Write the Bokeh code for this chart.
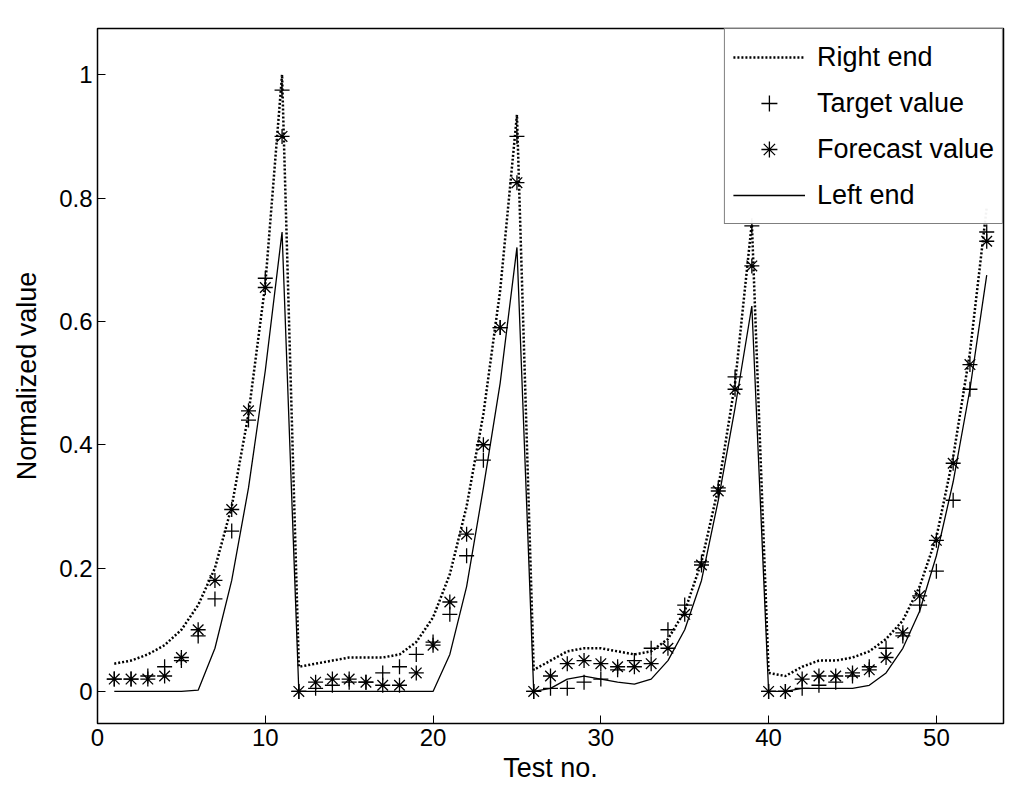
from bokeh.plotting import figure
from bokeh.models import Range1d, Legend, LegendItem, FixedTicker
from bokeh.embed import file_html
from bokeh.resources import INLINE

test_no = list(range(1, 54))
target = [.02,.02,.025,.04,.05,.09,.15,.26,.44,.67,.975,
          0,.005,.01,.015,.015,.03,.04,.06,.08,.125,.22,.375,.59,.90,
          0,.005,.005,.015,.02,.035,.05,.07,.10,.14,.21,.33,.51,.755,
          0,0,.005,.01,.015,.025,.04,.07,.09,.14,.195,.31,.49,.745]
forecast = [.02,.02,.02,.025,.055,.10,.18,.295,.455,.655,.90,
            0,.015,.02,.02,.015,.01,.01,.03,.075,.145,.255,.40,.59,.825,
            0,.025,.045,.05,.045,.04,.04,.045,.07,.125,.205,.325,.49,.69,
            0,0,.02,.025,.025,.03,.035,.055,.095,.155,.245,.37,.53,.73]
right_end = [.045,.05,.06,.075,.10,.14,.20,.30,.45,.66,1.0,
             .04,.045,.05,.055,.055,.055,.06,.08,.12,.19,.30,.45,.65,.935,
             .035,.05,.065,.07,.07,.065,.06,.065,.085,.13,.21,.33,.50,.76,
             .03,.025,.04,.05,.05,.055,.065,.085,.115,.17,.25,.38,.55,.785]
left_end = [0,0,0,0,0,.002,.07,.18,.33,.52,.745,
            0,0,0,0,0,0,0,0,0,.06,.17,.33,.50,.72,
            0,.005,.02,.025,.02,.015,.012,.02,.05,.10,.18,.31,.46,.625,
            0,0,.005,.005,.005,.005,.01,.03,.07,.13,.22,.34,.49,.675]
x_ticks = [0, 10, 20, 30, 40, 50]
y_ticks = [0, 0.2, 0.4, 0.6, 0.8, 1]

p = figure(width=1008, height=785, output_backend="svg", toolbar_location=None,
           x_range=Range1d(0, 54), y_range=Range1d(-0.052, 1.075),
           min_border_left=97, min_border_right=5, min_border_top=28, min_border_bottom=30)
p.grid.visible = False
p.outline_line_color = "black"
p.outline_line_width = 1.5
p.background_fill_color = "white"

r1 = p.line(test_no, right_end, line_color="black", line_width=2.5, line_dash="2 2")
r2 = p.scatter(test_no, target, marker="cross", size=15, line_color="black", line_width=1.3)
r3 = p.scatter(test_no, forecast, marker="asterisk", size=15, line_color="black", line_width=1.3)
r4 = p.line(test_no, left_end, line_color="black", line_width=1.3)

for ax in (p.xaxis[0], p.yaxis[0]):
    ax.major_label_text_font = "Liberation Sans"
    ax.major_label_text_font_size = "24px"
    ax.major_label_text_color = "black"
    ax.axis_label_text_font = "Liberation Sans"
    ax.axis_label_text_font_size = "27px"
    ax.axis_label_text_color = "black"
    ax.axis_label_text_font_style = "normal"
    ax.major_tick_in = 8
    ax.major_tick_out = 0
    ax.major_tick_line_color = "black"
    ax.minor_tick_in = 0
    ax.minor_tick_out = 0
    ax.axis_line_color = None
p.xaxis[0].ticker = FixedTicker(ticks=x_ticks)
p.yaxis[0].ticker = FixedTicker(ticks=y_ticks)
p.yaxis[0].major_label_overrides = {0: "0", 1: "1"}
p.xaxis[0].axis_label = "Test no."
p.yaxis[0].axis_label = "Normalized value"
p.xaxis[0].axis_label_standoff = 4
p.yaxis[0].axis_label_standoff = 14

legend = Legend(items=[LegendItem(label="Right end", renderers=[r1]),
                       LegendItem(label="Target value", renderers=[r2]),
                       LegendItem(label="Forecast value", renderers=[r3]),
                       LegendItem(label="Left end", renderers=[r4])],
                location="top_right", label_text_font="Liberation Sans",
                label_text_font_size="27px", label_text_color="black",
                glyph_width=72, glyph_height=40,
                spacing=6, padding=8, margin=0, border_line_color="black",
                border_line_width=1.5, label_standoff=12)
p.add_layout(legend)

open("out.html", "w").write(file_html(p, INLINE))
